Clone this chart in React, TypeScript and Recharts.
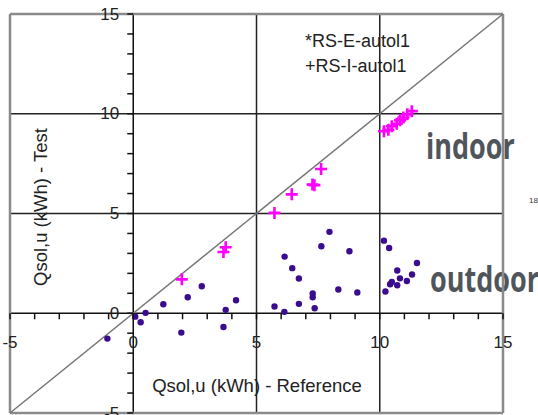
import { ScatterChart, Scatter, XAxis, YAxis, ReferenceLine } from "recharts"

// outdoor (RS-E-autol1), reference vs test
const outdoorRef = [
  -1.05, 0.08, 0.3, 0.5, 1.22, 1.95, 2.21, 2.78, 3.66, 3.75, 4.17, 5.73,
  6.13, 6.14, 6.45, 6.72, 6.72, 7.28, 7.28, 7.36, 7.63, 7.96, 8.32, 8.77,
  9.09, 10.17, 10.38, 10.23, 10.42, 10.49, 10.71, 10.82, 10.71, 11.1, 11.31, 11.51,
]
const outdoorTest = [
  -1.27, -0.17, -0.45, 0.02, 0.45, -0.97, 0.8, 1.35, -0.69, 0.17, 0.65, 0.34,
  0.07, 2.84, 2.26, 1.74, 0.47, 0.99, 0.8, 0.25, 3.36, 4.08, 1.19, 3.11,
  1.04, 3.64, 3.27, 1.09, 1.45, 1.57, 2.14, 1.75, 1.4, 1.62, 1.94, 2.52,
]

// indoor (RS-I-autol1)
const indoorRef = [1.97, 3.66, 3.75, 5.73, 6.43, 7.27, 7.35, 7.62, 10.17, 10.35, 10.49, 10.69, 10.82, 10.96, 11.12, 11.3]
const indoorTest = [1.7, 3.07, 3.31, 5.03, 5.96, 6.45, 6.42, 7.23, 9.12, 9.2, 9.37, 9.5, 9.67, 9.81, 9.97, 10.13]

const minorTicks = [-5, -4, -3, -2, -1, 0, 1, 2, 3, 4, 5, 6, 7, 8, 9, 10, 11, 12, 13, 14, 15]
const gridValues = [5, 10]
const domain: [number, number] = [-5, 15]

const outdoor = outdoorRef.map((x, i) => ({ x, y: outdoorTest[i] }))
const indoor = indoorRef.map((x, i) => ({ x, y: indoorTest[i] }))

const W = 538
const H = 415
const AX = 1 // thickness reserved for the (invisible) axis bands
const M = { top: 14, right: 35, bottom: 2 - AX, left: 10 - AX }
const plotL = M.left + AX
const plotW = W - plotL - M.right
const plotH = H - M.top - M.bottom - AX
// pixel position of the zero lines
const X0 = plotL + (plotW * (0 - domain[0])) / (domain[1] - domain[0])
const Y0 = M.top + (plotH * (domain[1] - 0)) / (domain[1] - domain[0])

const FONT = "'Liberation Sans', Arial, sans-serif"

const XTick = (props: any) => {
  const { x, payload } = props
  const v = payload.value
  return (
    <g>
      <line x1={x} x2={x} y1={Y0} y2={Y0 + 6} stroke="#111" strokeWidth={1.5} />
      {v % 5 === 0 && (
        <text x={x} y={Y0 + 29} textAnchor="middle" dominantBaseline="central" fontSize={17} fontFamily={FONT} fill="#222">
          {v}
        </text>
      )}
    </g>
  )
}

const YTick = (props: any) => {
  const { y, payload } = props
  const v = payload.value
  return (
    <g>
      <line x1={X0 - 6} x2={X0} y1={y} y2={y} stroke="#111" strokeWidth={1.5} />
      {v % 5 === 0 && (
        <text x={X0 - 14} y={y} textAnchor="end" dominantBaseline="central" fontSize={17} fontFamily={FONT} fill="#222">
          {v}
        </text>
      )}
    </g>
  )
}

const Dot = (props: any) => <circle cx={props.cx} cy={props.cy} r={3.2} fill="#3a0c8e" />

const Cross = (props: any) => {
  const { cx, cy } = props
  return (
    <path d={`M${cx - 6},${cy}H${cx + 6}M${cx},${cy - 6}V${cy + 6}`} stroke="#ff00ff" strokeWidth={2.6} fill="none" />
  )
}

export default function App() {
  return (
    <div style={{ position: "absolute", left: 0, top: 0, width: W, height: H, background: "#fff" }}>
      <ScatterChart width={W} height={H} margin={M}>
        <XAxis
          type="number"
          dataKey="x"
          domain={domain}
          ticks={minorTicks}
          interval={0}
          height={AX}
          axisLine={false}
          tickLine={false}
          tick={(p: any) => <XTick {...p} />}
        />
        <YAxis
          type="number"
          dataKey="y"
          domain={domain}
          ticks={minorTicks}
          interval={0}
          width={AX}
          axisLine={false}
          tickLine={false}
          tick={(p: any) => <YTick {...p} />}
        />
        {gridValues.map((v) => (
          <ReferenceLine key={"gx" + v} x={v} stroke="#222" strokeWidth={1.5} />
        ))}
        {gridValues.map((v) => (
          <ReferenceLine key={"gy" + v} y={v} stroke="#222" strokeWidth={1.5} />
        ))}
        <ReferenceLine x={0} stroke="#111" strokeWidth={1.5} />
        <ReferenceLine y={0} stroke="#111" strokeWidth={1.5} />
        <ReferenceLine x={domain[0]} stroke="#8a8a8a" strokeWidth={2.5} />
        <ReferenceLine x={domain[1]} stroke="#8a8a8a" strokeWidth={2.5} />
        <ReferenceLine y={domain[0]} stroke="#8a8a8a" strokeWidth={2.5} />
        <ReferenceLine y={domain[1]} stroke="#8a8a8a" strokeWidth={2.5} />
        <ReferenceLine
          segment={[
            { x: domain[0], y: domain[0] },
            { x: domain[1], y: domain[1] },
          ]}
          stroke="#777"
          strokeWidth={1.5}
        />
        <Scatter data={outdoor} shape={<Dot />} isAnimationActive={false} />
        <Scatter data={indoor} shape={<Cross />} isAnimationActive={false} />

        <text x={305} y={41} dominantBaseline="central" fontSize={18} fontFamily={FONT} fill="#222">
          *RS-E-autol1
        </text>
        <text x={305} y={66} dominantBaseline="central" fontSize={18} fontFamily={FONT} fill="#222">
          +RS-I-autol1
        </text>
        <text x={257} y={385} textAnchor="middle" dominantBaseline="central" fontSize={18.5} fontFamily={FONT} fill="#222">
          Qsol,u (kWh) - Reference
        </text>
        <text
          x={40}
          y={207}
          textAnchor="middle"
          dominantBaseline="central"
          fontSize={18.5}
          fontFamily={FONT}
          fill="#222"
          transform="rotate(-90 40 207)"
        >
          Qsol,u (kWh) - Test
        </text>
        <text
          transform="translate(426 159) scale(1 1.35)"
          fontSize={27}
          fontWeight="bold"
          fontFamily="'Open Sans', sans-serif"
          fill="#50555c"
        >
          indoor
        </text>
        <text
          transform="translate(430 292) scale(1 1.35)"
          fontSize={27}
          fontWeight="bold"
          fontFamily="'Open Sans', sans-serif"
          fill="#50555c"
        >
          outdoor
        </text>
        <text x={529} y={203} fontSize={8} fontFamily={FONT} fill="#333">
          18
        </text>
      </ScatterChart>
    </div>
  )
}
